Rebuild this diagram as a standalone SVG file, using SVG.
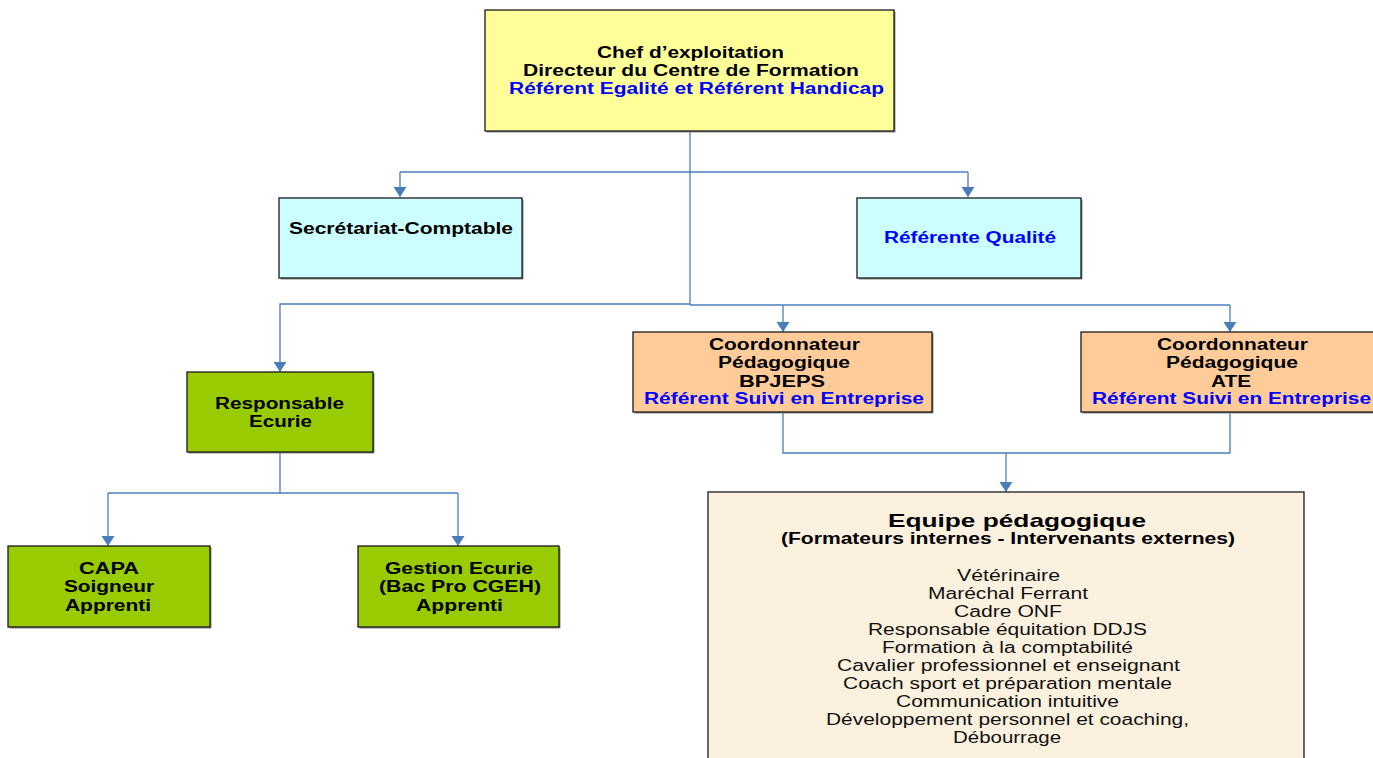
<svg xmlns="http://www.w3.org/2000/svg" width="1373" height="758" viewBox="0 0 1373 758">
<defs>
<style>
.box{stroke:#1a1a1a;stroke-width:1.3}
.sh{fill:#8a8a8a}
.t{font-family:"Liberation Sans",Arial,sans-serif;font-size:16px;font-weight:bold;fill:#000}
.b{fill:#0000ff}
.n{font-family:"Liberation Sans",Arial,sans-serif;font-size:16px;fill:#111}
.h{font-size:19px}
.c{fill:none;stroke:#4a7ebb;stroke-width:1.3}
</style>
<marker id="arr" markerUnits="userSpaceOnUse" markerWidth="14" markerHeight="14" viewBox="0 -7 11 14" refX="10" refY="0" orient="auto">
<path d="M0,-6.5 L10,0 L0,6.5 z" fill="#4a7ebb"/>
</marker>
</defs>
<rect width="1373" height="758" fill="#fff"/>

<g id="connectors">
<path class="c" d="M690,131 V305"/>
<path class="c" d="M400,172 H968"/>
<path class="c" d="M400,172 V197" marker-end="url(#arr)"/>
<path class="c" d="M968,172 V197" marker-end="url(#arr)"/>
<path class="c" d="M690,304 H280 V372" marker-end="url(#arr)"/>
<path class="c" d="M690,305 H1230"/>
<path class="c" d="M783,305 V332" marker-end="url(#arr)"/>
<path class="c" d="M1230,305 V332" marker-end="url(#arr)"/>
<path class="c" d="M783,412 V453 H1230 V412"/>
<path class="c" d="M1006,453 V492" marker-end="url(#arr)"/>
<path class="c" d="M280,452 V493"/>
<path class="c" d="M108,493 H458"/>
<path class="c" d="M108,493 V546" marker-end="url(#arr)"/>
<path class="c" d="M458,493 V546" marker-end="url(#arr)"/>
</g>

<g id="chef">
<rect class="sh" x="486.5" y="11.5" width="409" height="121"/>
<rect class="box" x="485" y="10" width="409" height="121" fill="#ffff99"/>
<text class="t" x="597" y="58" textLength="187" lengthAdjust="spacingAndGlyphs">Chef d’exploitation</text>
<text class="t" x="523" y="76" textLength="336" lengthAdjust="spacingAndGlyphs">Directeur du Centre de Formation</text>
<text class="t b" x="509" y="94" textLength="375" lengthAdjust="spacingAndGlyphs">Référent Egalité et Référent Handicap</text>
</g>

<g id="secretariat">
<rect class="sh" x="280.5" y="199.5" width="243" height="80"/>
<rect class="box" x="279" y="198" width="243" height="80" fill="#ccffff"/>
<text class="t" x="289" y="234" textLength="224" lengthAdjust="spacingAndGlyphs">Secrétariat-Comptable</text>
</g>

<g id="qualite">
<rect class="sh" x="858.5" y="199.5" width="224" height="80"/>
<rect class="box" x="857" y="198" width="224" height="80" fill="#ccffff"/>
<text class="t b" x="884" y="243" textLength="172" lengthAdjust="spacingAndGlyphs">Référente Qualité</text>
</g>

<g id="coord-bpjeps">
<rect class="sh" x="634.5" y="333.5" width="299" height="80"/>
<rect class="box" x="633" y="332" width="299" height="80" fill="#ffcc99"/>
<text class="t" x="709" y="350" textLength="151" lengthAdjust="spacingAndGlyphs">Coordonnateur</text>
<text class="t" x="718" y="368" textLength="132" lengthAdjust="spacingAndGlyphs">Pédagogique</text>
<text class="t" x="739" y="387" textLength="86" lengthAdjust="spacingAndGlyphs">BPJEPS</text>
<text class="t b" x="644" y="404" textLength="280" lengthAdjust="spacingAndGlyphs">Référent Suivi en Entreprise</text>
</g>

<g id="coord-ate">
<rect class="sh" x="1082.5" y="333.5" width="299" height="80"/>
<rect class="box" x="1081" y="332" width="299" height="80" fill="#ffcc99"/>
<text class="t" x="1157" y="350" textLength="151" lengthAdjust="spacingAndGlyphs">Coordonnateur</text>
<text class="t" x="1166" y="368" textLength="132" lengthAdjust="spacingAndGlyphs">Pédagogique</text>
<text class="t" x="1211" y="387" textLength="40" lengthAdjust="spacingAndGlyphs">ATE</text>
<text class="t b" x="1092" y="404" textLength="279" lengthAdjust="spacingAndGlyphs">Référent Suivi en Entreprise</text>
</g>

<g id="responsable">
<rect class="sh" x="188.5" y="373.5" width="186" height="80"/>
<rect class="box" x="187" y="372" width="186" height="80" fill="#99cc00"/>
<text class="t" x="215" y="409" textLength="129" lengthAdjust="spacingAndGlyphs">Responsable</text>
<text class="t" x="249" y="427" textLength="63" lengthAdjust="spacingAndGlyphs">Ecurie</text>
</g>

<g id="capa">
<rect class="sh" x="9.5" y="547.5" width="202" height="81"/>
<rect class="box" x="8" y="546" width="202" height="81" fill="#99cc00"/>
<text class="t" x="79" y="574" textLength="60" lengthAdjust="spacingAndGlyphs">CAPA</text>
<text class="t" x="64" y="592" textLength="90" lengthAdjust="spacingAndGlyphs">Soigneur</text>
<text class="t" x="65" y="611" textLength="86" lengthAdjust="spacingAndGlyphs">Apprenti</text>
</g>

<g id="gestion">
<rect class="sh" x="359.5" y="547.5" width="201" height="81"/>
<rect class="box" x="358" y="546" width="201" height="81" fill="#99cc00"/>
<text class="t" x="385" y="574" textLength="148" lengthAdjust="spacingAndGlyphs">Gestion Ecurie</text>
<text class="t" x="379" y="592" textLength="162" lengthAdjust="spacingAndGlyphs">(Bac Pro CGEH)</text>
<text class="t" x="416" y="611" textLength="87" lengthAdjust="spacingAndGlyphs">Apprenti</text>
</g>

<g id="equipe">
<rect class="box" x="708" y="492" width="596" height="280" fill="#fcf1df"/>
<text class="t h" x="888" y="527" textLength="258" lengthAdjust="spacingAndGlyphs">Equipe pédagogique</text>
<text class="t" x="781" y="544" textLength="454" lengthAdjust="spacingAndGlyphs">(Formateurs internes - Intervenants externes)</text>
<text class="n" x="957" y="580.5" textLength="103" lengthAdjust="spacingAndGlyphs">Vétérinaire</text>
<text class="n" x="928" y="598.6" textLength="160" lengthAdjust="spacingAndGlyphs">Maréchal Ferrant</text>
<text class="n" x="954" y="616.7" textLength="108" lengthAdjust="spacingAndGlyphs">Cadre ONF</text>
<text class="n" x="868" y="634.8" textLength="279" lengthAdjust="spacingAndGlyphs">Responsable équitation DDJS</text>
<text class="n" x="882" y="652.9" textLength="251" lengthAdjust="spacingAndGlyphs">Formation à la comptabilité</text>
<text class="n" x="837" y="671" textLength="343" lengthAdjust="spacingAndGlyphs">Cavalier professionnel et enseignant</text>
<text class="n" x="843" y="689.1" textLength="329" lengthAdjust="spacingAndGlyphs">Coach sport et préparation mentale</text>
<text class="n" x="896" y="707.2" textLength="223" lengthAdjust="spacingAndGlyphs">Communication intuitive</text>
<text class="n" x="826" y="725.3" textLength="363" lengthAdjust="spacingAndGlyphs">Développement personnel et coaching,</text>
<text class="n" x="953" y="743.4" textLength="108" lengthAdjust="spacingAndGlyphs">Débourrage</text>
</g>
</svg>
